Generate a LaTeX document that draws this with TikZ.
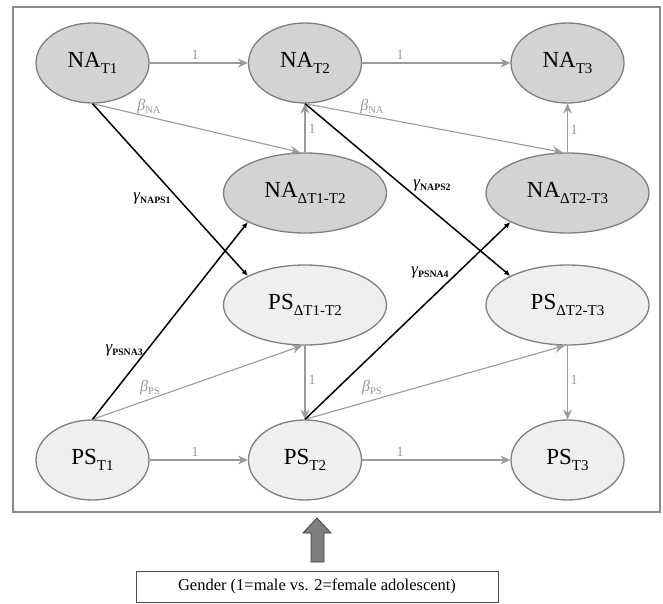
\documentclass[tikz,border=0pt]{standalone}
\usepackage{fontspec}
\setmainfont{Liberation Serif}
\usetikzlibrary{shapes.geometric,arrows.meta}
\definecolor{nafill}{HTML}{D3D3D3}
\definecolor{psfill}{HTML}{EFEFEF}
\definecolor{edgegray}{HTML}{7F7F7F}
\definecolor{arrgray}{HTML}{9A9A9A}
\definecolor{framegray}{HTML}{8A8A8A}
\newcommand\bigsub[2]{\fontsize{23}{23}\selectfont #1\raisebox{-6pt}{\fontsize{15}{15}\selectfont #2}}
\newcommand\gsub[2]{{\fontsize{17}{17}\selectfont\itshape #1}\raisebox{-3pt}{\fontsize{9.8}{9.8}\selectfont\bfseries #2}}
\newcommand\bsub[2]{{\fontsize{16}{16}\selectfont\itshape #1}\raisebox{-3pt}{\fontsize{10.5}{10.5}\selectfont #2}}
\begin{document}
\begin{tikzpicture}[x=1pt,y=-1pt,
 latent/.style={ellipse, draw=edgegray, line width=1.3pt, inner sep=0pt},
 nastyle/.style={latent, fill=nafill},
 psstyle/.style={latent, fill=psfill},
 smallell/.style={minimum width=113pt, minimum height=80pt},
 wideell/.style={minimum width=163pt, minimum height=80pt},
 garr/.style={draw=arrgray, line width=1.1pt, -{Stealth[length=10pt,width=9pt,inset=3.5pt]}},
 barr/.style={draw=black, line width=1.5pt, -{Latex[length=6pt,width=5.5pt]}},
 onelab/.style={text=arrgray, font=\fontsize{14}{14}\selectfont, inner sep=1pt},
 betalab/.style={text=arrgray, inner sep=0pt},
 gammalab/.style={text=black, inner sep=0pt}
]
\useasboundingbox (0,0) rectangle (663,604);
\draw[draw=framegray, line width=2pt] (13,7) rectangle (660,512);

% nodes
\node[nastyle,smallell] (na1) at (92.5,63) {\bigsub{NA}{T1}};
\node[nastyle,smallell] (na2) at (305,63) {\bigsub{NA}{T2}};
\node[nastyle,smallell] (na3) at (567.5,63) {\bigsub{NA}{T3}};
\node[nastyle,wideell] (nad1) at (305,193) {\bigsub{NA}{ΔT1-T2}};
\node[nastyle,wideell] (nad2) at (567.5,193) {\bigsub{NA}{ΔT2-T3}};
\node[psstyle,wideell] (psd1) at (305,305) {\bigsub{PS}{ΔT1-T2}};
\node[psstyle,wideell] (psd2) at (567.5,305) {\bigsub{PS}{ΔT2-T3}};
\node[psstyle,smallell] (ps1) at (92.5,460) {\bigsub{PS}{T1}};
\node[psstyle,smallell] (ps2) at (305,460) {\bigsub{PS}{T2}};
\node[psstyle,smallell] (ps3) at (567.5,460) {\bigsub{PS}{T3}};

% gray autoregressive arrows
\draw[garr] (na1) -- (na2);
\draw[garr] (na2) -- (na3);
\draw[garr] (ps1) -- (ps2);
\draw[garr] (ps2) -- (ps3);
\draw[garr] (nad1.north) -- (na2.south);
\draw[garr] (nad2.north) -- (na3.south);
\draw[garr] (psd1.south) -- (ps2.north);
\draw[garr] (psd2.south) -- (ps3.north);
\draw[garr] (na1.south) -- ([xshift=-5pt]nad1.north);
\draw[garr] (na2.south) -- ([xshift=-5pt]nad2.north);
\draw[garr] (ps1.north) -- ([xshift=-3pt]psd1.south);
\draw[garr] (ps2.north) -- ([xshift=-3pt]psd2.south);

% black cross-lagged arrows
\draw[barr] (na1.south) -- (psd1.153);
\draw[barr] (ps1.north) -- (nad1.207);
\draw[barr] (na2.south) -- (psd2.153);
\draw[barr] (ps2.north) -- (nad2.207);

% labels
\node[onelab] (l1) at (195,55) {1};
\node[onelab] (l2) at (400,55) {1};
\node[onelab] (l3) at (195,452) {1};
\node[onelab] (l4) at (400,452) {1};
\node[onelab] (l5) at (312,129) {1};
\node[onelab] (l6) at (574,130) {1};
\node[onelab] (l7) at (312,380) {1};
\node[onelab] (l8) at (574,380) {1};
\node[betalab] (b1) at (149,107) {\bsub{β}{NA}};
\node[betalab] (b2) at (372,107) {\bsub{β}{NA}};
\node[betalab] (b3) at (150,388) {\bsub{β}{PS}};
\node[betalab] (b4) at (372,388) {\bsub{β}{PS}};
\node[gammalab] (g1) at (152,198) {\gsub{γ}{NAPS1}};
\node[gammalab, anchor=east] (g2) at (143,350) {\gsub{γ}{PSNA3}};
\node[gammalab] (g3) at (432,185) {\gsub{γ}{NAPS2}};
\node[gammalab] (g4) at (430,272) {\gsub{γ}{PSNA4}};

% gender
\draw[fill=edgegray, draw=black!75, line width=0.8pt] (311,562) -- (311,533) -- (303,533) -- (317,518) -- (331,533) -- (324,533) -- (324,562) -- cycle;
\node[draw=black!70, line width=0.8pt, minimum width=362pt, minimum height=31pt, inner sep=0pt, font=\fontsize{16.5}{16.5}\selectfont] (gender) at (317,586.5) {Gender (1=male vs. 2=female adolescent)};
\end{tikzpicture}
\end{document}
